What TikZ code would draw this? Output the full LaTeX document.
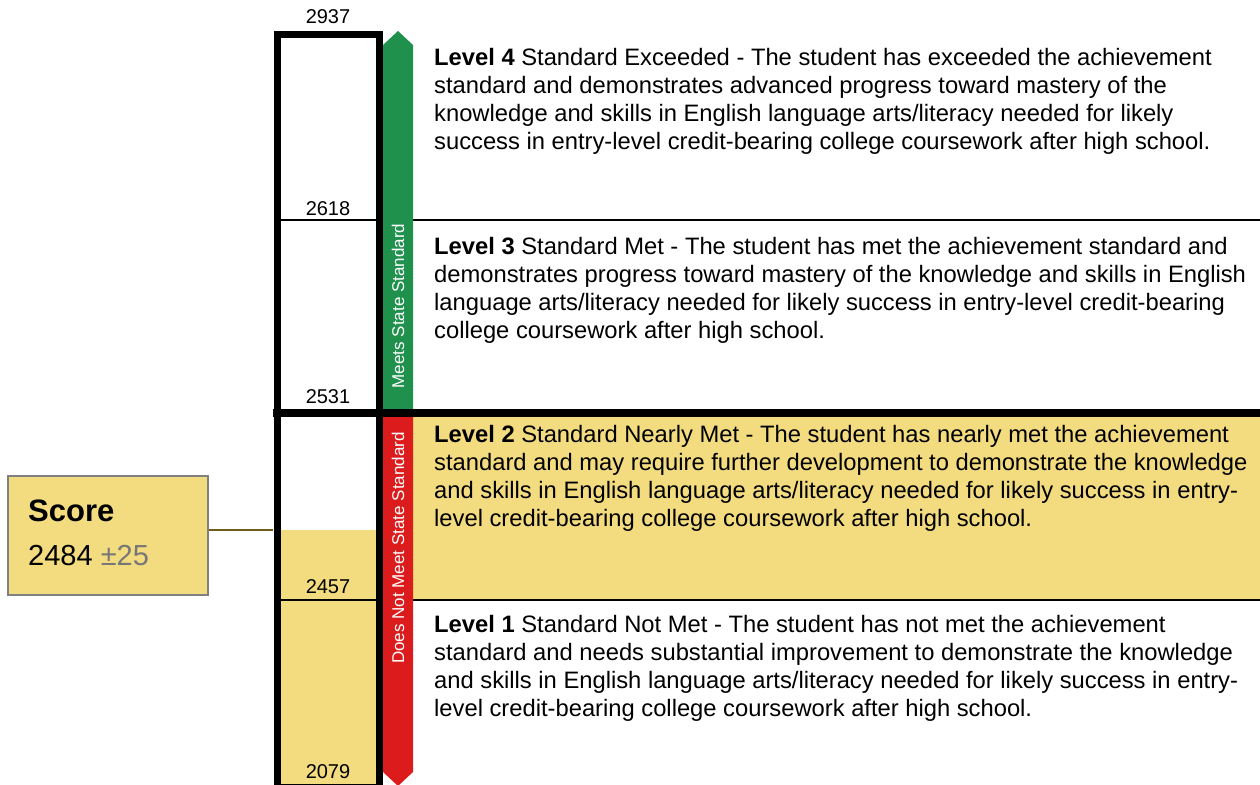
\documentclass[tikz,border=0pt]{standalone}
\usepackage{fontspec}
\setmainfont{Liberation Sans}
\definecolor{bandyellow}{HTML}{F3DC7F}
\definecolor{meetsgreen}{HTML}{1F914D}
\definecolor{notmetred}{HTML}{DC1C1C}
\definecolor{linkolive}{HTML}{6E5C1E}
\definecolor{scoregray}{HTML}{808080}
\definecolor{pmgray}{HTML}{777777}
\begin{document}
\begin{tikzpicture}[x=1pt,y=-1pt,
    cut/.style={inner sep=0pt,font=\fontsize{20}{24}\selectfont},
    level/.style={anchor=north west,inner sep=0pt,align=left,font=\fontsize{23.75}{28}\selectfont},
    band/.style={inner sep=0pt,rotate=90,text=white,font=\fontsize{17}{20}\selectfont}]
    \useasboundingbox (0,0) rectangle (1260,784);
    %% Bands
    \fill[bandyellow] (413,417) rectangle (1260,599);
    \fill[bandyellow] (281,530) rectangle (376,784);
    \draw[line width=2pt] (281,220) -- (1260,220);
    \draw[line width=2pt] (281,600) -- (1260,600);
    \fill[meetsgreen] (383,409) -- (383,45) -- (398,31) -- (413,45) -- (413,409) -- cycle;
    \fill[notmetred] (383,417) -- (383,772) -- (398,786) -- (413,772) -- (413,417) -- cycle;
    \draw[line width=7pt] (277,34.5) rectangle (379.5,787);
    \draw[line width=8pt] (273,413) -- (1260,413);
    %% Cut scores
    \node[cut] (c2937) at (328,17) {2937};
    \node[cut] (c2618) at (328,209) {2618};
    \node[cut] (c2531) at (328,397) {2531};
    \node[cut] (c2457) at (328,587) {2457};
    \node[cut] (c2079) at (328,772) {2079};
    \node[band] (meets) at (398,306) {Meets State Standard};
    \node[band] (notmeets) at (398,548) {Does Not Meet State Standard};
    %% Levels
    \node[level] (lev4) at (434,48) {\textbf{Level 4} Standard Exceeded - The student has exceeded the achievement\\
        standard and demonstrates advanced progress toward mastery of the\\
        knowledge and skills in English language arts/literacy needed for likely\\
        success in entry-level credit-bearing college coursework after high school.};
    \node[level] (lev3) at (434,237) {\textbf{Level 3} Standard Met - The student has met the achievement standard and\\
        demonstrates progress toward mastery of the knowledge and skills in English\\
        language arts/literacy needed for likely success in entry-level credit-bearing\\
        college coursework after high school.};
    \node[level] (lev2) at (434,425.5) {\textbf{Level 2} Standard Nearly Met - The student has nearly met the achievement\\
        standard and may require further development to demonstrate the knowledge\\
        and skills in English language arts/literacy needed for likely success in entry-\\
        level credit-bearing college coursework after high school.};
    \node[level] (lev1) at (434,615.5) {\textbf{Level 1} Standard Not Met - The student has not met the achievement\\
        standard and needs substantial improvement to demonstrate the knowledge\\
        and skills in English language arts/literacy needed for likely success in entry-\\
        level credit-bearing college coursework after high school.};
    %% Score
    \node[draw=scoregray,fill=bandyellow,line width=2pt,minimum width=200,minimum height=119,inner sep=0pt] (score) at (108,535.5) {};
    \node[anchor=north west,inner sep=0pt,font=\bfseries\fontsize{31}{36}\selectfont] (scorehead) at (28,500) {Score};
    \node[anchor=north west,inner sep=0pt,font=\fontsize{29}{34}\selectfont] (scoreval) at (28,545) {2484 \textcolor{pmgray}{±25}};
    \coordinate (colpt) at (273,530);
    \draw[linkolive,line width=1.5pt] (score.east |- colpt) -- (colpt);
\end{tikzpicture}
\end{document}
